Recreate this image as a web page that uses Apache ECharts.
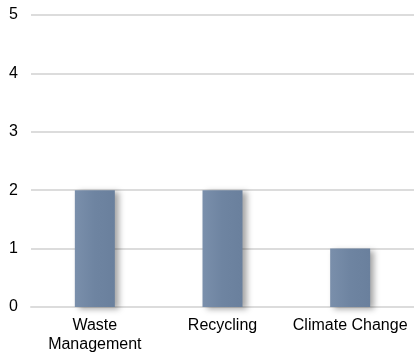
<!DOCTYPE html>
<html>
<head>
<meta charset="utf-8">
<script src="https://cdn.jsdelivr.net/npm/echarts@6/dist/echarts.min.js"></script>
<style>
  html, body { margin: 0; padding: 0; background: #fff; }
  #chart { width: 414px; height: 356px; }
</style>
</head>
<body>
<div id="chart"></div>
<script>
var categories = ['Waste\nManagement', 'Recycling', 'Climate Change'];
var values = [2, 2, 1];
var yTicks = [0, 1, 2, 3, 4, 5];

var myChart = echarts.init(document.getElementById('chart'));

var option = {
    animation: false,
    grid: { left: 31, right: 0, top: 15, bottom: 49 },
    xAxis: {
        type: 'category',
        data: categories,
        axisLine: { lineStyle: { color: '#dcdcdc', width: 2 } },
        axisTick: { show: false },
        axisLabel: {
            color: '#000',
            fontFamily: 'Liberation Sans, Arial',
            fontSize: 16,
            lineHeight: 19,
            margin: 9,
            interval: 0
        }
    },
    yAxis: {
        type: 'value',
        min: yTicks[0],
        max: yTicks[yTicks.length - 1],
        interval: 1,
        axisLine: { show: false },
        axisTick: { show: false },
        splitLine: { lineStyle: { color: '#dcdcdc', width: 2 } },
        axisLabel: {
            color: '#000',
            fontFamily: 'Liberation Sans, Arial',
            fontSize: 16,
            margin: 13
        }
    },
    series: [{
        type: 'bar',
        data: values,
        barWidth: 40,
        itemStyle: {
            color: new echarts.graphic.LinearGradient(0, 0, 1, 0, [
                { offset: 0, color: '#7a8fab' },
                { offset: 0.5, color: '#6e84a1' },
                { offset: 1, color: '#6a809d' }
            ]),
            shadowColor: 'rgba(0,0,0,0.35)',
            shadowBlur: 6,
            shadowOffsetX: 4,
            shadowOffsetY: 2
        }
    }]
};

myChart.setOption(option);
</script>
</body>
</html>
